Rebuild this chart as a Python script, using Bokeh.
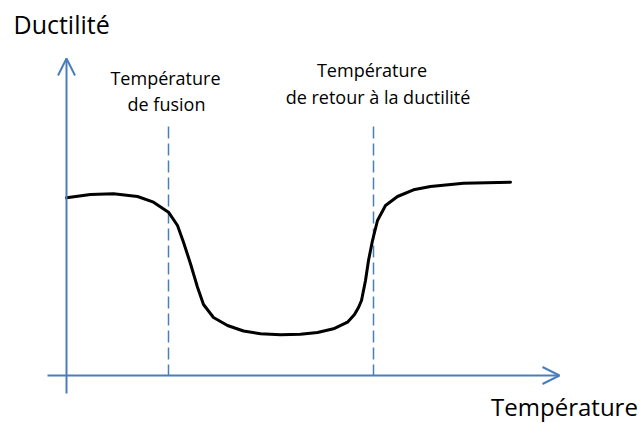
from bokeh.plotting import figure
from bokeh.models import Range1d, Arrow, OpenHead
from bokeh.core.properties import value
from bokeh.embed import file_html
from bokeh.resources import INLINE

# Curve: temperature (arbitrary units) vs ductility (arbitrary units)
temperature = [0, 24, 47, 71, 87, 102, 111, 117, 124, 131, 137, 147, 161, 177, 194, 214,
               234, 251, 267, 281, 288, 292, 295, 299, 302, 306, 311, 319, 331, 347, 364, 397, 444]
ductility = [177.7, 181, 181.7, 179, 173.3, 163.3, 150, 133.3, 111.7, 88.3, 71, 58, 50, 44.5,
             41.7, 40.7, 41.3, 43, 46.7, 53.3, 61, 68, 75, 95, 115, 135, 155, 170, 179,
             185.7, 189, 192.3, 193.3]

# Characteristic temperatures (dashed markers)
marker_temps = [102, 307]
marker_top = 249

# Axis extents
x_axis_start, x_axis_end = -19, 493
y_axis_start, y_axis_end = -18, 317

# Labels
y_label = "Ductilité"
x_label = "Température"
label1 = ["Température", "de fusion"]
label2 = ["Température", "de retour à la ductilité"]

BLUE = "#4A7EBB"
FONT = "Open Sans"

p = figure(width=644, height=423, output_backend="svg", toolbar_location=None,
           x_range=Range1d(-66, 578), y_range=Range1d(-48, 375),
           x_axis_location=None, y_axis_location=None, min_border=0)
p.outline_line_color = None
p.grid.visible = False
p.background_fill_color = "white"
p.border_fill_color = "white"

# Axes as arrows
p.add_layout(Arrow(end=OpenHead(size=17, line_color=BLUE, line_width=2),
                   x_start=x_axis_start, y_start=0, x_end=x_axis_end, y_end=0,
                   line_color=BLUE, line_width=2))
p.add_layout(Arrow(end=OpenHead(size=17, line_color=BLUE, line_width=2),
                   x_start=0, y_start=y_axis_start, x_end=0, y_end=y_axis_end,
                   line_color=BLUE, line_width=2))

# Dashed vertical markers
for t in marker_temps:
    p.line([t, t], [marker_top, 0], line_color=BLUE, line_width=1.5, line_dash="12 5")

# Curve
p.line(temperature, ductility, line_color="black", line_width=3, line_join="round",
       line_cap="round")

# Texts
p.text(x=[-53], y=[351.5], text=[y_label], text_font=value(FONT), text_font_size="25px",
       text_align="left", text_baseline="alphabetic", text_color="black")
p.text(x=[498], y=[-31], text=[x_label], text_font=value(FONT), text_font_size="24px",
       text_align="center", text_baseline="alphabetic", text_color="black")
p.text(x=[99, 100], y=[298, 272], text=label1, text_font=value(FONT), text_font_size="18px",
       text_align="center", text_baseline="alphabetic", text_color="black")
p.text(x=[305.5, 311.5], y=[306, 279], text=label2, text_font=value(FONT), text_font_size="18px",
       text_align="center", text_baseline="alphabetic", text_color="black")

open("out.html", "w").write(file_html(p, INLINE))
